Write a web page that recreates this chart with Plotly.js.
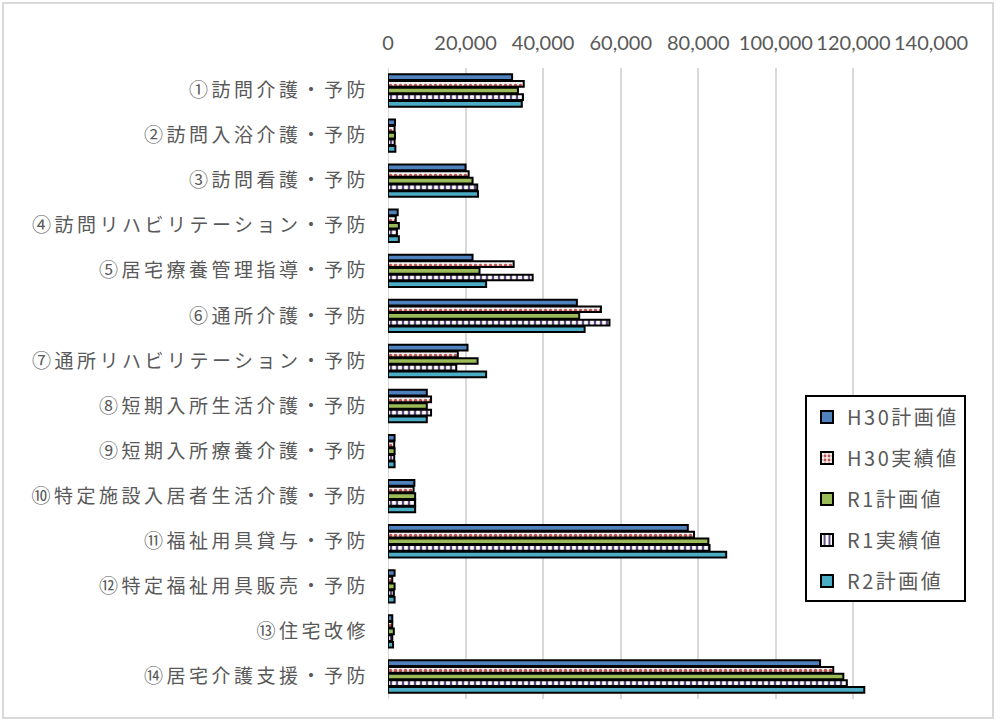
<!DOCTYPE html>
<html>
<head>
<meta charset="utf-8">
<script src="https://cdn.plot.ly/plotly-3.0.1.min.js"></script>
<style>
  body { margin: 0; background: #fff; }
  #chart { width: 996px; height: 721px; }
  #frame { position: absolute; left: 2px; top: 2px; width: 988px; height: 713px; border: 2px solid #d9d9d9; pointer-events: none; }
  .ytick text { letter-spacing: 3.5px; }
  .legendtext { letter-spacing: 2.5px; }
</style>
</head>
<body>
<div id="chart"></div>
<div id="frame"></div>
<script>
const categories = [
  "①訪問介護・予防",
  "②訪問入浴介護・予防",
  "③訪問看護・予防",
  "④訪問リハビリテーション・予防",
  "⑤居宅療養管理指導・予防",
  "⑥通所介護・予防",
  "⑦通所リハビリテーション・予防",
  "⑧短期入所生活介護・予防",
  "⑨短期入所療養介護・予防",
  "⑩特定施設入居者生活介護・予防",
  "⑪福祉用具貸与・予防",
  "⑫特定福祉用具販売・予防",
  "⑬住宅改修",
  "⑭居宅介護支援・予防"
];
const seriesNames = ["H30計画値", "H30実績値", "R1計画値", "R1実績値", "R2計画値"];
const h30Plan   = [32000, 1800, 20000, 2500, 21800, 48700, 20500, 10000, 1700, 6800, 77300, 1700, 1100, 111400];
const h30Actual = [35000, 1700, 20800, 2000, 32400, 54900, 18000, 11100, 1600, 6600, 78900, 1100, 1100, 114800];
const r1Plan    = [33500, 1800, 21800, 2800, 23600, 49300, 23100, 10000, 1700, 7000, 82600, 1700, 1500, 117400];
const r1Actual  = [34800, 1700, 23000, 2300, 37300, 57100, 17600, 11100, 1600, 7000, 82900, 1500, 1100, 118300];
const r2Plan    = [34500, 1900, 23200, 2800, 25300, 50700, 25300, 10000, 1700, 7000, 87200, 1700, 1300, 122800];
const xTickVals = [0, 20000, 40000, 60000, 80000, 100000, 120000, 140000];
const xTickText = ["0", "20,000", "40,000", "60,000", "80,000", "100,000", "120,000", "140,000"];

const allValues = [h30Plan, h30Actual, r1Plan, r1Actual, r2Plan];
const markers = [
  { color: "#4f81bd", line: { color: "#000", width: 2 } },
  { color: "#f2f2f2", line: { color: "#000", width: 2 }, pattern: { shape: ".", fgcolor: "#c0504d", bgcolor: "#f2f2f2", size: 5, solidity: 0.4 } },
  { color: "#9bbb59", line: { color: "#000", width: 2 } },
  { color: "#ffffff", line: { color: "#000", width: 2 }, pattern: { shape: "|", fgcolor: "#604a7b", bgcolor: "#ffffff", size: 6, solidity: 0.4 } },
  { color: "#4bacc6", line: { color: "#000", width: 2 } }
];

const data = allValues.map((vals, i) => ({
  type: "bar",
  orientation: "h",
  name: seriesNames[i],
  y: categories,
  x: vals,
  marker: markers[i],
  legendgroup: "g" + i,
  hoverinfo: "x+name"
}));

const layout = {
  width: 996,
  height: 721,
  margin: { l: 388, r: 65, t: 68, b: 22, pad: 0 },
  paper_bgcolor: "#ffffff",
  plot_bgcolor: "#ffffff",
  barmode: "group",
  bargap: 0.26,
  bargroupgap: 0.15,
  showlegend: true,
  font: { family: "Noto Sans CJK JP, sans-serif", color: "#595959" },
  xaxis: {
    side: "top",
    range: [0, 140000],
    tickvals: xTickVals,
    ticktext: xTickText,
    showgrid: true,
    gridcolor: "#d9d9d9",
    gridwidth: 2,
    zeroline: false,
    showline: false,
    ticks: "",
    ticklabelstandoff: 13,
    tickfont: { family: "Lato, sans-serif", size: 20, color: "#595959" },
    fixedrange: true
  },
  yaxis: {
    autorange: "reversed",
    type: "category",
    showgrid: false,
    zeroline: false,
    showline: false,
    ticks: "",
    ticklabelstandoff: 18,
    tickfont: { family: "Noto Sans CJK JP, sans-serif", size: 19, color: "#595959" },
    fixedrange: true
  },
  legend: {
    x: 0.768,
    y: 0.481,
    xanchor: "left",
    yanchor: "top",
    bordercolor: "#000000",
    borderwidth: 2,
    bgcolor: "#ffffff",
    traceorder: "grouped",
    tracegroupgap: 12,
    font: { family: "Noto Sans CJK JP, sans-serif", size: 20, color: "#595959" },
    itemwidth: 30
  },
  shapes: [
    { type: "line", xref: "x", yref: "paper", x0: 0, x1: 0, y0: 0, y1: 1, line: { color: "#d9d9d9", width: 2 }, layer: "below" }
  ]
};

Plotly.newPlot("chart", data, layout, { displayModeBar: false, staticPlot: true });
</script>
</body>
</html>
